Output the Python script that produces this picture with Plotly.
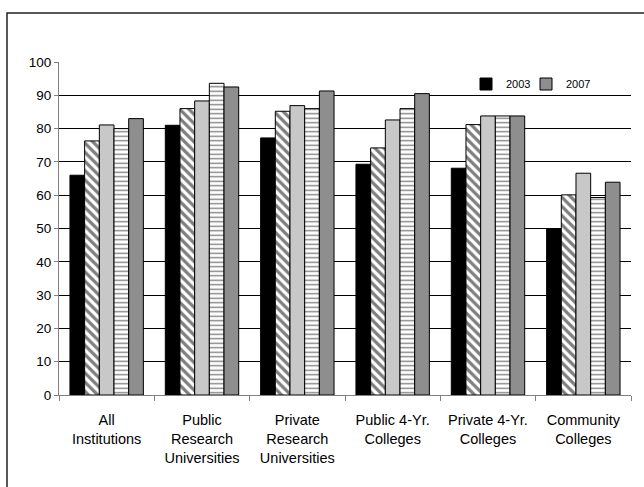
import plotly.graph_objects as go

# Institution categories along the x axis
categories = [
    "All<br>Institutions",
    "Public<br>Research<br>Universities",
    "Private<br>Research<br>Universities",
    "Public 4-Yr.<br>Colleges",
    "Private 4-Yr.<br>Colleges",
    "Community<br>Colleges",
]

# Values per year (percent)
y2003 = [66, 81, 77.2, 69.3, 68.1, 50]
y2004 = [76.3, 86, 85.2, 74.2, 81.2, 60.1]
y2005 = [81.1, 88.3, 86.9, 82.6, 83.8, 66.6]
y2006 = [80, 93.6, 86, 86, 83.8, 59.3]
y2007 = [83, 92.5, 91.3, 90.5, 83.8, 63.9]

y_ticks = [0, 10, 20, 30, 40, 50, 60, 70, 80, 90, 100]

FONT = "Liberation Sans, Arial, sans-serif"
OUTLINE = dict(color="black", width=1)

fig = go.Figure()
fig.add_trace(go.Bar(name="2003", x=categories, y=y2003,
                     marker=dict(color="black", line=OUTLINE),
                     legend="legend"))
fig.add_trace(go.Bar(name="2004", x=categories, y=y2004, showlegend=False,
                     marker=dict(color="white", line=OUTLINE,
                                 pattern=dict(shape="\\", fgcolor="black", bgcolor="white",
                                              size=6.5, solidity=0.5))))
fig.add_trace(go.Bar(name="2005", x=categories, y=y2005, showlegend=False,
                     marker=dict(color="#c8c8c8", line=OUTLINE)))
fig.add_trace(go.Bar(name="2006", x=categories, y=y2006, showlegend=False,
                     marker=dict(color="white", line=OUTLINE,
                                 pattern=dict(shape="-", fgcolor="black", bgcolor="white",
                                              size=4.5, solidity=0.3))))
fig.add_trace(go.Bar(name="2007", x=categories, y=y2007,
                     marker=dict(color="#8e8e8e", line=OUTLINE),
                     legend="legend2"))

L, R, T, B = 59, 13, 62, 92
W, H = 644, 487
pw, ph = W - L - R, H - T - B


def px_x(v):
    return (v - L) / pw


def px_y(v):
    return (H - B - v) / ph


legend_common = dict(orientation="h", xanchor="left", yanchor="middle",
                     bgcolor="rgba(0,0,0,0)", borderwidth=0,
                     font=dict(family=FONT, size=11, color="black"))

fig.update_layout(
    width=W, height=H,
    margin=dict(l=L, r=R, t=T, b=B, autoexpand=False),
    paper_bgcolor="white", plot_bgcolor="white",
    barmode="group", bargap=0.23, bargroupgap=0,
    font=dict(family=FONT, size=13, color="black"),
    legend=dict(x=px_x(466), y=px_y(84), **legend_common),
    legend2=dict(x=px_x(526), y=px_y(84), **legend_common),
    shapes=[
        dict(type="rect", xref="paper", yref="paper",
             x0=px_x(7), x1=px_x(660), y0=px_y(500), y1=px_y(13),
             line=dict(color="#222", width=1.5), layer="below"),
    ],
)

fig.update_xaxes(
    showgrid=False, showline=True, linecolor="#808080", linewidth=1,
    ticks="outside", tickson="boundaries", ticklen=5, tickcolor="#808080",
    tickangle=0, automargin=False, ticklabelstandoff=12,
    tickfont=dict(family=FONT, size=14.5, color="black"),
)
fig.update_yaxes(
    range=[0, 100], tickvals=y_ticks, automargin=False,
    showgrid=True, gridcolor="black", gridwidth=1.3, zeroline=False,
    showline=True, linecolor="#808080", linewidth=1,
    ticks="outside", ticklen=4, tickcolor="#808080",
    tickfont=dict(family=FONT, size=13.5, color="black"),
)

fig.write_html("out.html")
